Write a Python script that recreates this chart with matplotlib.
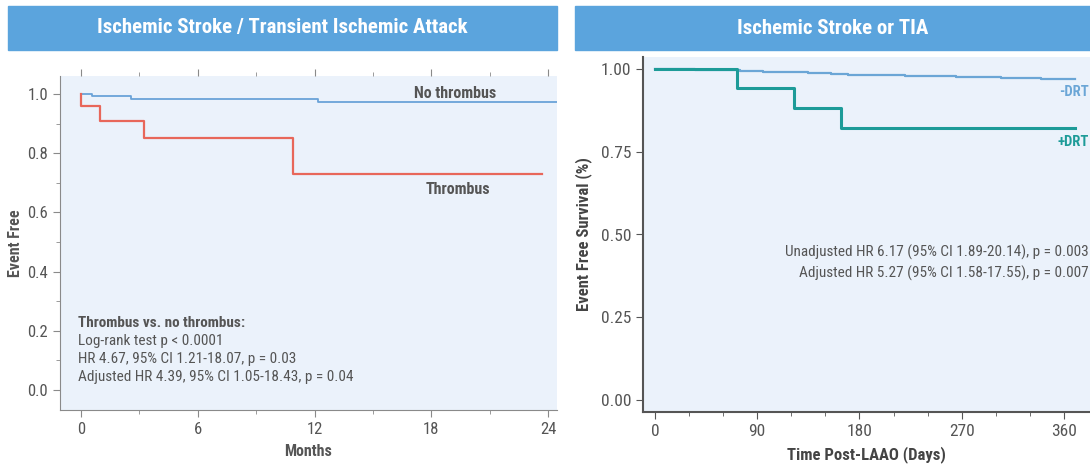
import numpy as np
import matplotlib
matplotlib.use("Agg")
import matplotlib.pyplot as plt
from matplotlib.patches import Rectangle
from matplotlib.ticker import MultipleLocator

FONT = ['Roboto Condensed', 'Lato', 'DejaVu Sans']
plt.rcParams['font.family'] = FONT

# Left panel: Kaplan-Meier, months
nothr_t = [0, 0.57, 1.13, 2.57, 12.2, 24.5]
nothr_s = [1.0, 0.995, 0.992, 0.983, 0.973, 0.973]
thr_t = [0, 0, 0.98, 3.24, 10.9, 23.7]
thr_s = [1.0, 0.96, 0.909, 0.851, 0.730, 0.730]
left_stats = ["Log-rank test p < 0.0001",
              "HR 4.67, 95% CI 1.21-18.07, p = 0.03",
              "Adjusted HR 4.39, 95% CI 1.05-18.43, p = 0.04"]

# Right panel: days post LAAO
neg_t = [0, 15, 35, 55, 75, 95, 115, 135, 155, 170, 195, 220, 245, 265, 285, 305, 325, 340, 355, 370]
neg_s = [1.0, 0.999, 0.998, 0.997, 0.995, 0.992, 0.990, 0.988, 0.985, 0.982,
         0.981, 0.980, 0.979, 0.977, 0.976, 0.974, 0.972, 0.970, 0.969, 0.969]
pos_t = [0, 72, 122, 164, 370]
pos_s = [1.0, 0.942, 0.883, 0.823, 0.823]
right_stats = ["Unadjusted HR 6.17 (95% CI 1.89-20.14), p = 0.003",
               "Adjusted HR 5.27 (95% CI 1.58-17.55), p = 0.007"]

W, H = 1090, 465
fig = plt.figure(figsize=(W / 100, H / 100), dpi=100)

band = '#5ba4dd'
fill = '#ebf2fb'
txt = '#555555'

# title bands
for x0, x1, title in [(8, 557, 'Ischemic Stroke / Transient Ischemic Attack'),
                      (575, 1090, 'Ischemic Stroke or TIA')]:
    fig.patches.append(Rectangle((x0 / W, 1 - 50 / H), (x1 - x0) / W, 44 / H,
                                 transform=fig.transFigure, color=band, zorder=0))
    fig.text((x0 + x1) / 2 / W, 1 - 28 / H, title, color='white', fontsize=15,
             fontweight='bold', ha='center', va='center')

# ---- left panel
ax1 = fig.add_axes([60 / W, 1 - 410 / H, 497 / W, 334 / H])
ax1.set_facecolor(fill)
ax1.step(nothr_t, nothr_s, where='post', color='#6aa3d8', lw=1.3)
ax1.step(thr_t, thr_s, where='post', color='#e8675a', lw=1.6)
ax1.set_xlim(-1.08, 24.46)
ax1.set_ylim(-0.068, 1.061)
ax1.xaxis.set_major_locator(MultipleLocator(6))
ax1.xaxis.set_minor_locator(MultipleLocator(3))
ax1.yaxis.set_minor_locator(MultipleLocator(0.1))
ax1.set_yticks(np.arange(0, 1.01, 0.2))
ax1.set_yticklabels([f"{v:.1f}" for v in np.arange(0, 1.01, 0.2)])
for s in ['top', 'right']:
    ax1.spines[s].set_visible(False)
for s in ['left', 'bottom']:
    ax1.spines[s].set_color('#8a8a8a')
ax1.tick_params(which='both', direction='out', colors='#8a8a8a', labelcolor=txt,
                labelsize=12, top=True, labeltop=False)
ax1.tick_params(which='major', length=5)
ax1.tick_params(which='minor', length=3)
ax1.set_xlabel('Months', fontsize=11.5, fontweight='bold', color=txt, labelpad=5)
ax1.set_ylabel('Event Free', fontsize=11.5, fontweight='bold', color=txt, labelpad=3)
ax1.text(0.795, 0.949, 'No thrombus', transform=ax1.transAxes, ha='center', va='center',
         fontsize=11.5, fontweight='bold', color=txt)
ax1.text(0.801, 0.659, 'Thrombus', transform=ax1.transAxes, ha='center', va='center',
         fontsize=11.5, fontweight='bold', color=txt)
ax1.text(0.036, 0.26, 'Thrombus vs. no thrombus:', transform=ax1.transAxes,
         va='center', fontsize=11, fontweight='bold', color=txt)
for i, line in enumerate(left_stats):
    ax1.text(0.036, 0.26 - 0.054 * (i + 1), line, transform=ax1.transAxes,
             va='center', fontsize=11, color=txt)

# ---- right panel
ax2 = fig.add_axes([643 / W, 1 - 412 / H, 447 / W, 355 / H])
ax2.set_facecolor(fill)
ax2.step(neg_t, neg_s, where='post', color='#6ba6d6', lw=1.6)
ax2.step(pos_t, pos_s, where='post', color='#1d9b98', lw=2.2)
ax2.set_xlim(-10.6, 383)
ax2.set_ylim(-0.036, 1.036)
ax2.xaxis.set_major_locator(MultipleLocator(90))
ax2.xaxis.set_minor_locator(MultipleLocator(30))
ax2.set_yticks([0, 0.25, 0.5, 0.75, 1.0])
ax2.set_yticklabels(['0.00', '0.25', '0.50', '0.75', '1.00'])
for s in ['top', 'right']:
    ax2.spines[s].set_visible(False)
for s in ['left', 'bottom']:
    ax2.spines[s].set_color('#555555')
    ax2.spines[s].set_linewidth(1.5)
ax2.tick_params(which='both', direction='out', colors='#555555', labelcolor=txt,
                labelsize=12.5)
ax2.tick_params(which='major', length=5)
ax2.tick_params(which='minor', length=3)
ax2.set_xlabel('Time Post-LAAO (Days)', fontsize=12, fontweight='bold', color='#444444',
               labelpad=5)
ax2.set_ylabel('Event Free Survival (%)', fontsize=12, fontweight='bold', color='#444444',
               labelpad=6)
ax2.text(0.997, 0.901, '-DRT', transform=ax2.transAxes, ha='right', va='center',
         fontsize=10.5, fontweight='bold', color='#6ba6d6')
ax2.text(0.997, 0.761, '+DRT', transform=ax2.transAxes, ha='right', va='center',
         fontsize=10.5, fontweight='bold', color='#1d9b98')
for i, line in enumerate(right_stats):
    ax2.text(0.997, 0.451 - 0.059 * i, line, transform=ax2.transAxes, ha='right',
             va='center', fontsize=11, color=txt)

fig.savefig('out.png', dpi=100)
